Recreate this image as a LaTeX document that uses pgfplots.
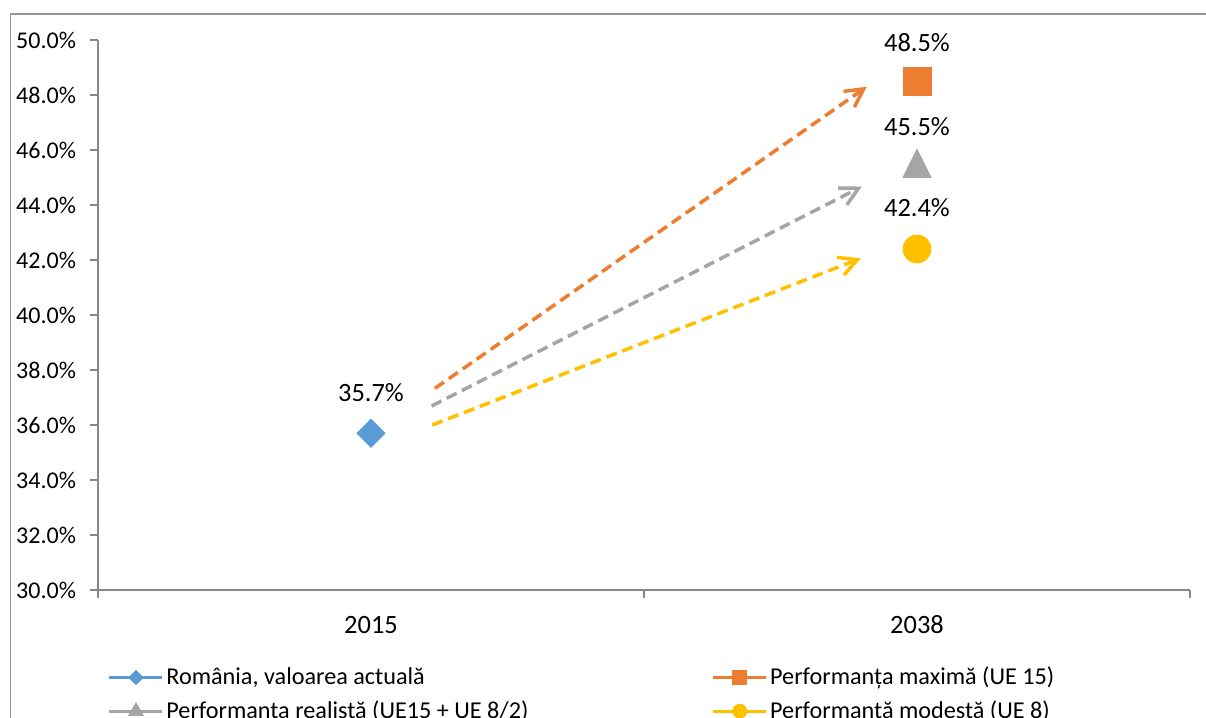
\documentclass[border=0pt]{standalone}
\usepackage{fontspec}
\setmainfont{Carlito}
\usepackage{pgfplots}
\pgfplotsset{compat=1.18}
\usetikzlibrary{arrows.meta}
\definecolor{cblue}{HTML}{5B9BD5}
\definecolor{corange}{HTML}{ED7D31}
\definecolor{cgray}{HTML}{A5A5A5}
\definecolor{cyellow}{HTML}{FFC000}
\definecolor{axgray}{HTML}{868686}
\definecolor{framegray}{HTML}{959595}
\begin{document}
\begin{tikzpicture}[font=\fontsize{12pt}{14.4pt}\selectfont]
\path[use as bounding box] (0,0) rectangle (603pt,-359pt);
\draw[framegray, line width=0.75pt] (5.15pt,-380pt) -- (5.15pt,-6.9pt) -- (620pt,-6.9pt);
\begin{axis}[
  at={(49pt,-295pt)}, anchor=south west,
  width=546pt, height=275pt, scale only axis,
  xmin=-0.5, xmax=1.5, ymin=30, ymax=50,
  clip=false,
  axis x line*=bottom, axis y line*=left,
  axis line style={axgray, line width=0.6pt, -},
  tick style={axgray, line width=0.6pt},
  tick align=outside, major tick length=4pt,
  /pgf/number format/assume math mode=true,
  xtick={-0.5,0.5,1.5}, xticklabels={},
  extra x ticks={0,1}, extra x tick labels={2015,2038},
  extra x tick style={major tick length=0pt,
    xticklabel style={anchor=base, yshift=-21.65pt, font=\fontsize{13.2pt}{15pt}\selectfont}},
  ytick={30,32,...,50},
  yticklabel={\pgfmathprintnumber[fixed,fixed zerofill,precision=1]{\tick}\%},
  yticklabel style={xshift=-3.5pt, font=\fontsize{12pt}{14.4pt}\selectfont},
  legend columns=2,
  legend cell align=left,
  legend style={at={(0.0033,-0.125)}, anchor=north west, draw=none, fill=none,
    row sep=2.5pt, nodes={inner xsep=1.2pt}, font=\fontsize{12.1pt}{14.4pt}\selectfont},
  legend image code/.code={\draw[#1, line width=1.5pt, mark repeat=2, mark phase=2, /tikz/every mark/.append style={scale=0.5, line width=0.4pt}]
     plot coordinates {(0pt,0pt) (13.25pt,0pt) (26.5pt,0pt)};},
  nodes near coords={\pgfmathprintnumber[fixed,fixed zerofill,precision=1]{\pgfplotspointmeta}\%},
  every node near coord/.append style={anchor=base, text=black, font=\fontsize{13.2pt}{15pt}\selectfont},
]
\addplot[cblue, mark=square*, mark size=4.95pt, mark options={rotate=45, fill=cblue, draw=cblue},
  every node near coord/.append style={yshift=15.75pt}]
  coordinates {(0,35.7)};
\addlegendentry{\makebox[271.5pt][l]{România, valoarea actuală}}
\addplot[corange, mark=square*, mark size=7pt, mark options={fill=corange, draw=corange},
  every node near coord/.append style={yshift=14.8pt}]
  coordinates {(1,48.5)};
\addlegendentry{Performanța maximă (UE 15)}
\addplot[cgray, mark=triangle*, mark size=8.1pt, mark options={yshift=-2.1pt, yscale=1.16, fill=cgray, draw=cgray},
  every node near coord/.append style={yshift=16pt},
  legend image code/.code={\draw[cgray, line width=1.5pt, mark=triangle*, mark size=4.2pt, mark repeat=2, mark phase=2,
     mark options={fill=cgray, draw=cgray, line width=0.4pt}]
     plot coordinates {(0pt,0pt) (13.25pt,0pt) (26.5pt,0pt)};}]
  coordinates {(1,45.5)};
\addlegendentry{\makebox[271.5pt][l]{Performanța realistă (UE15 + UE 8/2)}}
\addplot[cyellow, mark=*, mark size=7pt, mark options={fill=cyellow, draw=cyellow},
  every node near coord/.append style={yshift=16.15pt}]
  coordinates {(1,42.4)};
\addlegendentry{Performanță modestă (UE 8)}
\draw[corange, line width=1.75pt, dash pattern=on 5.5pt off 3pt, -{Straight Barb[length=9pt,width=9.5pt]}]
  (axis cs:0.117,37.33) -- (axis cs:0.908,48.30);
\draw[cgray, line width=1.75pt, dash pattern=on 5.5pt off 3pt, -{Straight Barb[length=9pt,width=9.5pt]}]
  (axis cs:0.111,36.69) -- (axis cs:0.899,44.67);
\draw[cyellow, line width=1.75pt, dash pattern=on 5.5pt off 3pt, -{Straight Barb[length=9pt,width=9.5pt]}]
  (axis cs:0.112,36.0) -- (axis cs:0.897,42.06);
\end{axis}
\end{tikzpicture}
\end{document}
